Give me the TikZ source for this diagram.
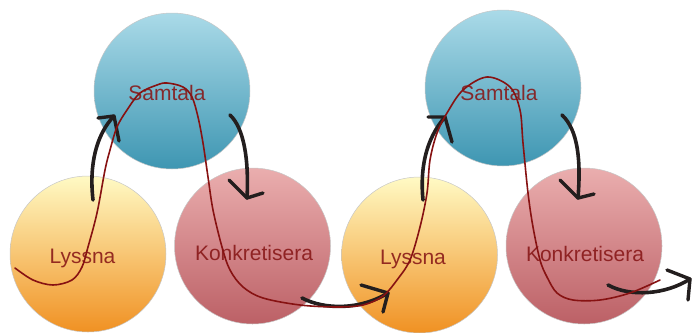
\documentclass[tikz,border=0pt]{standalone}
\usepackage{fontspec}
\setmainfont{Liberation Sans}
\definecolor{bluetop}{RGB}{170,218,232}
\definecolor{bluebot}{RGB}{62,150,178}
\definecolor{yeltop}{RGB}{255,250,196}
\definecolor{yelbot}{RGB}{240,145,35}
\definecolor{redtop}{RGB}{234,174,174}
\definecolor{redbot}{RGB}{188,96,102}
\definecolor{txtcol}{RGB}{135,22,22}
\definecolor{curvecol}{RGB}{135,18,18}
\definecolor{arrcol}{RGB}{35,30,30}
\begin{document}
\begin{tikzpicture}[x=1pt,y=-1pt,
  bubble/.style={circle, draw=black!22, line width=0.5pt, minimum size=156pt, inner sep=0pt},
  samb/.style={bubble, top color=bluetop, bottom color=bluebot},
  lysb/.style={bubble, top color=yeltop, bottom color=yelbot},
  konb/.style={bubble, top color=redtop, bottom color=redbot},
  lbl/.style={anchor=base, text=txtcol, text opacity=0.88, font=\fontsize{21}{25}\selectfont, inner sep=0pt},
  handarrow/.style={draw=arrcol, line width=3.6pt, line cap=round, line join=round},
  barb/.style={draw=arrcol, line width=3.4pt, line cap=round, line join=round},
  redline/.style={draw=curvecol, line width=1.6pt, line cap=round}]
\useasboundingbox (0,0) rectangle (692,332);
% circles
\node[samb] (sam1) at (172,91) {};
\node[lysb] (lys1) at (88,254) {};
\node[konb] (kon1) at (252.5,246) {};
\node[samb] (sam2) at (503,88) {};
\node[lysb] (lys2) at (419.5,255) {};
\node[konb] (kon2) at (584,246) {};
% labels
\node[lbl] (tsam1) at (167,100) {Samtala};
\node[lbl] (tlys1) at (82.5,263) {Lyssna};
\node[lbl] (tkon1) at (254,260) {Konkretisera};
\node[lbl] (tsam2) at (499,100) {Samtala};
\node[lbl] (tlys2) at (413,264) {Lyssna};
\node[lbl] (tkon2) at (585,261) {Konkretisera};
% arrow coordinates
\coordinate (a1s) at (93,200);  \coordinate (a1t) at (114,116);
\coordinate (a1l) at (98,118);  \coordinate (a1r) at (119,141);
\coordinate (a2s) at (230,115); \coordinate (a2t) at (247,198);
\coordinate (a2l) at (229,180); \coordinate (a2r) at (263,193);
\coordinate (a3s) at (302,298); \coordinate (a3t) at (388,293);
\coordinate (a3l) at (361,285); \coordinate (a3r) at (383,312);
\coordinate (a4s) at (423,200); \coordinate (a4t) at (445,117);
\coordinate (a4l) at (428,117); \coordinate (a4r) at (452,142);
\coordinate (a5s) at (562,115); \coordinate (a5t) at (578,198);
\coordinate (a5l) at (560,180); \coordinate (a5r) at (594,194);
\coordinate (a6s) at (608,285); \coordinate (a6t) at (690,279);
\coordinate (a6l) at (667,270); \coordinate (a6r) at (688,300);
% hand-drawn arrows
\draw[handarrow] (a1s) .. controls (89,165) and (96,135) .. (a1t);
\draw[barb] (a1l) -- (a1t) -- (a1r);
\draw[handarrow] (a2s) .. controls (244,128) and (249,160) .. (a2t);
\draw[barb] (a2l) -- (a2t) -- (a2r);
\draw[handarrow] (a3s) .. controls (325,310) and (360,310) .. (a3t);
\draw[barb] (a3l) -- (a3t) -- (a3r);
\draw[handarrow] (a4s) .. controls (420,170) and (425,140) .. (a4t);
\draw[barb] (a4l) -- (a4t) -- (a4r);
\draw[handarrow] (a5s) .. controls (578,130) and (581,160) .. (a5t);
\draw[barb] (a5l) -- (a5t) -- (a5r);
\draw[handarrow] (a6s) .. controls (630,297) and (665,295) .. (a6t);
\draw[barb] (a6l) -- (a6t) -- (a6r);
% red wave
\draw[redline] plot[smooth, tension=0.55] coordinates {
(15,268) (33,280) (53,285) (72,280) (82,267) (88,247) (97,213) (105,170)
(110,150) (117,127) (127,110) (140,93) (157,85) (167,83) (183,87) (192,97)
(198,117) (203,143) (208,177) (213,210) (222,247) (230,270) (243,287) (263,298)
(300,305) (337,307) (363,305) (383,296) (397,280) (410,260) (420,227) (427,193)
(430,160) (437,133) (447,113) (463,90) (487,77) (510,87) (520,110) (523,143)
(528,193) (533,227) (540,260) (547,277) (557,293) (573,300) (600,300) (630,293) (660,280)};
\end{tikzpicture}
\end{document}
